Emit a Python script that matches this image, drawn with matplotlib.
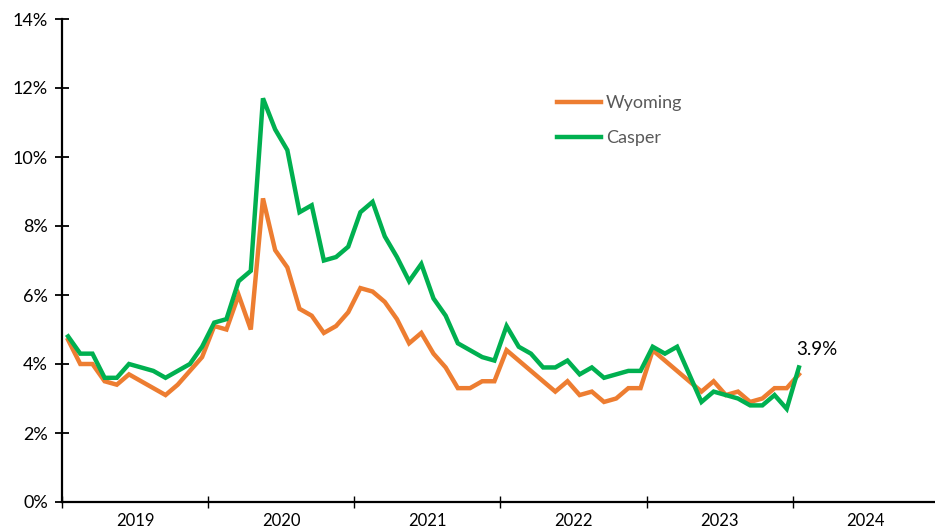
import matplotlib
matplotlib.use("Agg")
import matplotlib.pyplot as plt
from matplotlib.ticker import FixedLocator, FuncFormatter, NullFormatter

plt.rcParams['font.family'] = ['Lato', 'DejaVu Sans']

years = ["2019", "2020", "2021", "2022", "2023", "2024"]

# Monthly unemployment rate, Jan 2019 - Jan 2024 (%)
wyoming = [4.7, 4.0, 4.0, 3.5, 3.4, 3.7, 3.5, 3.3, 3.1, 3.4, 3.8, 4.2,
           5.1, 5.0, 6.0, 5.0, 8.8, 7.3, 6.8, 5.6, 5.4, 4.9, 5.1, 5.5,
           6.2, 6.1, 5.8, 5.3, 4.6, 4.9, 4.3, 3.9, 3.3, 3.3, 3.5, 3.5,
           4.4, 4.1, 3.8, 3.5, 3.2, 3.5, 3.1, 3.2, 2.9, 3.0, 3.3, 3.3,
           4.4, 4.1, 3.8, 3.5, 3.2, 3.5, 3.1, 3.2, 2.9, 3.0, 3.3, 3.3,
           3.7]
casper = [4.8, 4.3, 4.3, 3.6, 3.6, 4.0, 3.9, 3.8, 3.6, 3.8, 4.0, 4.5,
          5.2, 5.3, 6.4, 6.7, 11.7, 10.8, 10.2, 8.4, 8.6, 7.0, 7.1, 7.4,
          8.4, 8.7, 7.7, 7.1, 6.4, 6.9, 5.9, 5.4, 4.6, 4.4, 4.2, 4.1,
          5.1, 4.5, 4.3, 3.9, 3.9, 4.1, 3.7, 3.9, 3.6, 3.7, 3.8, 3.8,
          4.5, 4.3, 4.5, 3.7, 2.9, 3.2, 3.1, 3.0, 2.8, 2.8, 3.1, 2.7,
          3.9]

months = [i + 0.5 for i in range(len(wyoming))]

W, H = 935, 532
fig = plt.figure(figsize=(W / 100, H / 100), dpi=100)
ax = fig.add_axes([62 / W, 1 - 502 / H, (W - 62) / W, (502 - 19) / H])

orange = "#ED7D31"
green = "#00B050"
ax.plot(months, wyoming, color=orange, lw=3.2, label="Wyoming", solid_joinstyle='miter')
ax.plot(months, casper, color=green, lw=3.2, label="Casper", solid_joinstyle='miter')

ax.set_xlim(0, (W - 62) / 12.18)
ax.set_ylim(0, 14)

for s in ["top", "right"]:
    ax.spines[s].set_visible(False)
for s in ["left", "bottom"]:
    ax.spines[s].set_linewidth(1.6)
    ax.spines[s].set_color("black")

ax.yaxis.set_major_locator(FixedLocator(range(0, 15, 2)))
ax.yaxis.set_major_formatter(FuncFormatter(lambda v, p: f"{int(v)}%"))
ax.tick_params(axis='y', direction='inout', length=10, width=1.3, labelsize=13, pad=5, colors='black')

ax.xaxis.set_major_locator(FixedLocator([12 * k for k in range(len(years))]))
ax.xaxis.set_major_formatter(NullFormatter())
ax.xaxis.set_minor_locator(FixedLocator([12 * k + 6 for k in range(len(years))]))
ax.xaxis.set_minor_formatter(FuncFormatter(lambda v, p: years[int(v // 12)] if int(v // 12) < len(years) else ""))
ax.tick_params(axis='x', which='major', direction='inout', length=9, width=1.0)
ax.tick_params(axis='x', which='minor', length=0, labelsize=12, pad=8)

ax.annotate(f"{casper[-1]}%", xy=(months[-1], casper[-1]), xytext=(-2, 13),
            textcoords='offset points', ha='left', va='center', fontsize=13.5, color='black')

leg = ax.legend(loc='upper left', bbox_to_anchor=(548 / W, 1 - 86 / H),
                bbox_transform=fig.transFigure, frameon=False, fontsize=13,
                handlelength=2.45, handletextpad=0.25, labelspacing=1.05, borderpad=0)
for t in leg.get_texts():
    t.set_color("#595959")

fig.savefig("out.png", dpi=100)
